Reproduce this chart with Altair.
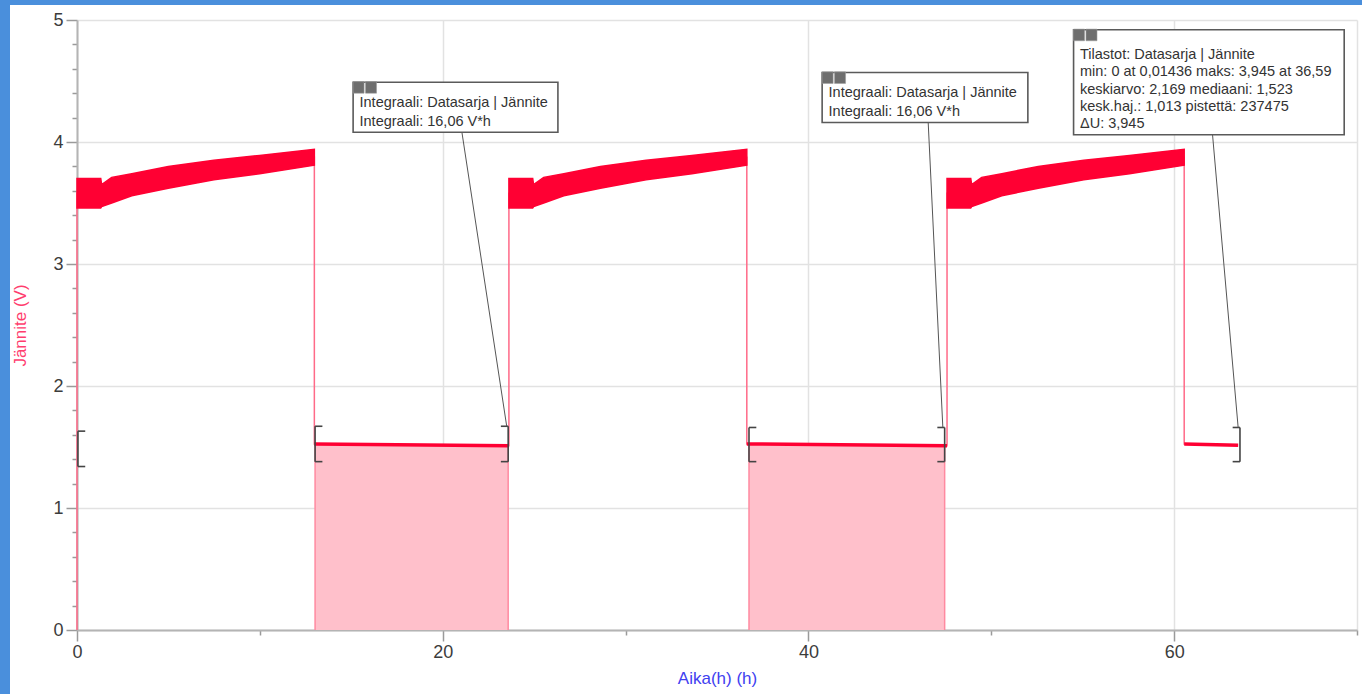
import altair as alt
import pandas as pd

# ---- data ----
cycle_start = [0.0, 23.62, 47.58]
charge_end = [12.98, 36.63, 60.55]
rest_end = [23.62, 47.58, 63.5]
rest_v_start = [1.525, 1.525, 1.525]
rest_v_end = [1.51, 1.51, 1.515]

# charging envelope: hours since cycle start, lower / upper voltage (V)
env_t = [0.0, 1.3, 1.35, 1.9, 3.0, 5.0, 7.5, 10.0, 13.0]
env_lo = [3.46, 3.46, 3.47, 3.50, 3.56, 3.62, 3.69, 3.74, 3.81]
env_hi = [3.70, 3.70, 3.65, 3.71, 3.74, 3.80, 3.85, 3.89, 3.94]

# integral regions (shaded)
fill_start = [13.02, 36.75]
fill_end = [23.58, 47.45]

# region brackets
brk_t = [0.05, 13.02, 23.58, 36.75, 47.45, 63.6]
brk_dir = [1, 1, -1, 1, -1, -1]
brk_lo = [1.34, 1.38, 1.38, 1.38, 1.38, 1.38]
brk_hi = [1.63, 1.67, 1.67, 1.66, 1.66, 1.66]

# annotation boxes (data units)
box_t1 = [15.1, 40.75, 54.5]
box_t2 = [26.3, 52.0, 69.3]
box_v1 = [4.08, 4.16, 4.06]
box_v2 = [4.49, 4.57, 4.92]
lead_t1 = [21.05, 46.55, 62.1]
lead_v1 = [4.08, 4.16, 4.06]
lead_t2 = [23.5, 47.35, 63.5]
lead_v2 = [1.67, 1.66, 1.66]
box_lines = [
    ["Integraali: Datasarja | Jännite", "Integraali: 16,06 V*h"],
    ["Integraali: Datasarja | Jännite", "Integraali: 16,06 V*h"],
    ["Tilastot: Datasarja | Jännite",
     "min: 0 at 0,01436 maks: 3,945 at 36,59",
     "keskiarvo: 2,169 mediaani: 1,523",
     "kesk.haj.: 1,013 pistettä: 237475",
     "ΔU: 3,945"],
]
line_off_2 = [-0.17, -0.325]
line_off_5 = [-0.21, -0.35, -0.49, -0.63, -0.77]

x_ticks = [0, 10, 20, 30, 40, 50, 60, 70]
y_ticks = [round(i * 0.2, 1) for i in range(26)]

# ---- build tables ----
band_rows, trace_rows, rest_rows, fill_rows = [], [], [], []
prev = 0.0
for c in range(3):
    s, ce, re_ = cycle_start[c], charge_end[c], rest_end[c]
    k = (ce - s) / env_t[-1]
    trace_rows.append({"t": s, "v": prev})
    for rt, lo, hi in zip(env_t, env_lo, env_hi):
        t = s + rt * k
        band_rows.append({"t": t, "lo": lo, "hi": hi, "cyc": c})
        trace_rows.append({"t": t, "v": (lo + hi) / 2})
    trace_rows.append({"t": ce, "v": rest_v_start[c]})
    trace_rows.append({"t": re_, "v": rest_v_end[c]})
    rest_rows.append({"t": ce, "v": rest_v_start[c], "cyc": c})
    rest_rows.append({"t": re_, "v": rest_v_end[c], "cyc": c})
    prev = rest_v_end[c]

for i in range(2):
    fill_rows.append({"t": fill_start[i], "v": rest_v_start[i], "r": i})
    fill_rows.append({"t": fill_end[i], "v": rest_v_end[i], "r": i})

band = pd.DataFrame(band_rows)
trace = pd.DataFrame(trace_rows).reset_index()
rest = pd.DataFrame(rest_rows)
fill = pd.DataFrame(fill_rows)
fill_edges = pd.DataFrame({"t": fill_start + fill_end,
                           "v": rest_v_start[:2] + rest_v_end[:2]})

brk = pd.DataFrame({"t": brk_t, "lo": brk_lo, "hi": brk_hi,
                    "t2": [t + d * 0.4 for t, d in zip(brk_t, brk_dir)]})
serif = pd.concat([brk.assign(y=brk["lo"]), brk.assign(y=brk["hi"])])

boxes = pd.DataFrame({"t1": box_t1, "t2": box_t2, "v1": box_v1, "v2": box_v2})
leads = pd.DataFrame({"t1": lead_t1, "v1": lead_v1, "t2": lead_t2, "v2": lead_v2})
icons = pd.DataFrame({
    "t1": [t + o for t in box_t1 for o in (0.0, 0.68)],
    "t2": [t + o + 0.6 for t in box_t1 for o in (0.0, 0.68)],
    "v1": [v - 0.09 for v in box_v2 for _ in (0, 1)],
    "v2": [v + 0.005 for v in box_v2 for _ in (0, 1)],
})
txt_rows = []
for b in range(3):
    offs = line_off_2 if len(box_lines[b]) == 2 else line_off_5
    for line, o in zip(box_lines[b], offs):
        txt_rows.append({"t": box_t1[b] + 0.35, "v": box_v2[b] + o, "label": line})
texts = pd.DataFrame(txt_rows)

# ---- scales / axes ----
xs = alt.Scale(domain=[0, 70], nice=False, zero=False)
ys = alt.Scale(domain=[0, 5], nice=False, zero=True)
FONT = "Liberation Sans"
INT = "abs(datum.value - round(datum.value)) < 0.001"

x_axis = alt.Axis(
    values=x_ticks, title="Aika(h) (h)",
    labelExpr="datum.value % 20 === 0 ? format(datum.value, 'd') : ''",
    tickSize={"condition": {"test": "datum.value % 20 === 0", "value": 11}, "value": 5},
    gridOpacity={"condition": {"test": "datum.value % 20 === 0 || datum.value === 70", "value": 1}, "value": 0},
    grid=True, gridColor="#e2e2e2", gridWidth=1.5,
    domainColor="#b4b4b4", domainWidth=2, tickColor="#9a9a9a", tickWidth=1.5,
    labelFont=FONT, labelFontSize=18, labelColor="#3c3c3c", labelPadding=2,
    labelFlush=False, labelOverlap=False,
    titleFont=FONT, titleFontSize=17, titleFontWeight="normal", titleColor="#4040f0",
    titleX=640, titleY=48, titleBaseline="middle",
)
y_axis = alt.Axis(
    values=y_ticks, title="Jännite (V)",
    labelExpr=INT + " ? format(datum.value, 'd') : ''",
    tickSize={"condition": {"test": INT, "value": 11}, "value": 5},
    gridOpacity={"condition": {"test": INT, "value": 1}, "value": 0},
    grid=True, gridColor="#e2e2e2", gridWidth=1.5,
    domainColor="#b4b4b4", domainWidth=2, tickColor="#9a9a9a", tickWidth=1.5,
    labelFont=FONT, labelFontSize=18, labelColor="#3c3c3c", labelPadding=3,
    labelFlush=False, labelOverlap=False,
    titleFont=FONT, titleFontSize=17, titleFontWeight="normal", titleColor="#ff3d6e",
    titleX=-57, titleY=305, titleBaseline="middle", titleAngle=-90,
)


def X(f):
    return alt.X(f, type="quantitative", scale=xs, axis=x_axis)


def Y(f):
    return alt.Y(f, type="quantitative", scale=ys, axis=y_axis, stack=None)


fill_layer = alt.Chart(fill).mark_area(color="#ffc0cb", opacity=1).encode(
    x=X("t"), y=Y("v"), detail="r:N")
fill_edge_layer = alt.Chart(fill_edges).mark_rule(color="#ff8aa0", strokeWidth=1.5).encode(
    x=X("t"), y=Y("v"), y2=alt.datum(0))
trace_layer = alt.Chart(trace).mark_line(color="#ff6a88", strokeWidth=1.5).encode(
    x=X("t"), y=Y("v"), order=alt.Order("index:Q"))
rest_layer = alt.Chart(rest).mark_line(color="#ff0033", strokeWidth=3.5).encode(
    x=X("t"), y=Y("v"), detail="cyc:N")
band_layer = alt.Chart(band).mark_area(color="#ff0033", stroke="#ff0033", strokeWidth=1.5,
                                       opacity=1).encode(
    x=X("t"), y=Y("hi"), y2=alt.Y2("lo"), detail="cyc:N")

brk_v = alt.Chart(brk).mark_rule(color="#444444", strokeWidth=1.6).encode(
    x=X("t"), y=Y("lo"), y2=alt.Y2("hi"))
brk_s = alt.Chart(serif).mark_rule(color="#444444", strokeWidth=1.6).encode(
    x=X("t"), x2=alt.X2("t2"), y=Y("y"))

lead_layer = alt.Chart(leads).mark_rule(color="#555555", strokeWidth=1).encode(
    x=X("t1"), y=Y("v1"), x2=alt.X2("t2"), y2=alt.Y2("v2"))
box_layer = alt.Chart(boxes).mark_rect(fill="white", stroke="#5a5a5a", strokeWidth=1.6).encode(
    x=X("t1"), x2=alt.X2("t2"), y=Y("v1"), y2=alt.Y2("v2"))
icon_layer = alt.Chart(icons).mark_rect(fill="#6e6e6e", stroke="#9a9a9a", strokeWidth=0.6).encode(
    x=X("t1"), x2=alt.X2("t2"), y=Y("v1"), y2=alt.Y2("v2"))
text_layer = alt.Chart(texts).mark_text(align="left", baseline="middle", font=FONT,
                                        fontSize=14.5, color="#333333").encode(
    x=X("t"), y=Y("v"), text="label:N")

one = alt.Data(values=[{"k": 0}])
blue_left = alt.Chart(one).mark_rect(color="#4a8fdc").encode(
    x=alt.value(-77), x2=alt.value(-67), y=alt.value(-20), y2=alt.value(674))
blue_top = alt.Chart(one).mark_rect(color="#4a8fdc").encode(
    x=alt.value(-77), x2=alt.value(1285), y=alt.value(-20), y2=alt.value(-15))

chart = alt.layer(
    fill_layer, fill_edge_layer, trace_layer, rest_layer, band_layer,
    brk_v, brk_s, lead_layer, box_layer, icon_layer, text_layer,
    blue_left, blue_top,
).properties(
    width=1280, height=610,
    autosize=alt.AutoSizeParams(type="none"),
    padding={"left": 77, "top": 20, "right": 5, "bottom": 64},
    background="white",
).configure_view(stroke=None)

chart.save("out.html", embed_options={"renderer": "svg", "actions": False})
